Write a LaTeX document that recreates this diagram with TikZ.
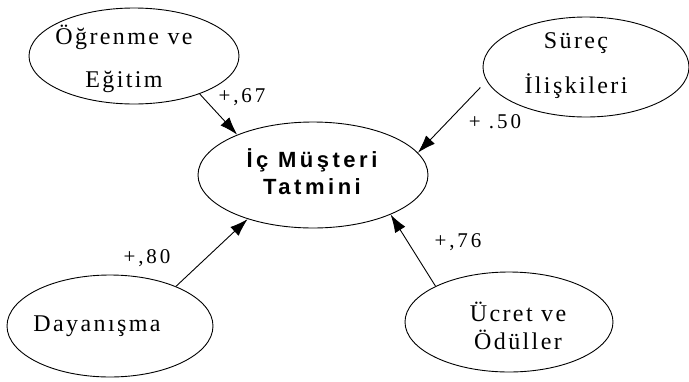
\documentclass[tikz,border=0pt]{standalone}
\usepackage{fontspec}
\setmainfont{Liberation Serif}
\newfontfamily\spc[LetterSpace=10]{Liberation Serif}
\newfontfamily\spclab[LetterSpace=14]{Liberation Serif}
\newfontfamily\spcb[LetterSpace=16]{Liberation Sans}
\usetikzlibrary{shapes.geometric,arrows.meta}
\tikzset{
  ell/.style={draw, ellipse, inner sep=0pt, line width=0.9pt},
  txt/.style={align=center, inner sep=0pt},
  lab/.style={inner sep=0pt, font={\spclab\fontsize{21}{21}\selectfont}},
  arr/.style={line width=0.9pt, -{Latex[length=18pt,width=12pt]}}
}
\begin{document}
\begin{tikzpicture}[x=1pt,y=-1pt]
\useasboundingbox (0,0) rectangle (689,381);
% ellipses
\node[ell, minimum width=210pt, minimum height=96pt] (og) at (134,56) {};
\node[ell, minimum width=206pt, minimum height=100pt] (sr) at (586,67) {};
\node[ell, minimum width=230pt, minimum height=106pt] (ic) at (313,175) {};
\node[ell, minimum width=206pt, minimum height=102pt] (dy) at (110,326) {};
\node[ell, minimum width=208pt, minimum height=100pt] (uc) at (509,322) {};
% texts
\node[txt, font={\spc\fontsize{24}{43}\selectfont}] (ogt) at (124,58.5) {Öğrenme ve\\Eğitim};
\node[txt, font={\spc\fontsize{24}{45}\selectfont}] (srt) at (576,65.5) {Süreç\\İlişkileri};
\node[txt, font={\spcb\bfseries\fontsize{22}{27}\selectfont}] (ict) at (312,171.5) {İç Müşteri\\Tatmini};
\node[txt, font={\spc\fontsize{24}{28}\selectfont}] (dyt) at (97,326) {Dayanışma};
\node[txt, font={\spc\fontsize{24}{28}\selectfont}] (uct) at (518,326) {Ücret ve\\Ödüller};
% arrows
\draw[arr] (og.-30.6) -- (ic.152);
\draw[arr, shorten <=9pt] (sr.188) -- (ic.12);
\draw[arr] (dy.31.6) -- (ic.-146.7);
\draw[arr] (uc.154.6) -- (ic.-27);
% labels
\node[lab] (l1) at (242,97) {+,67};
\node[lab] (l2) at (495,122) {+ .50};
\node[lab] (l3) at (147,258) {+,80};
\node[lab] (l4) at (458,242) {+,76};
\end{tikzpicture}
\end{document}
